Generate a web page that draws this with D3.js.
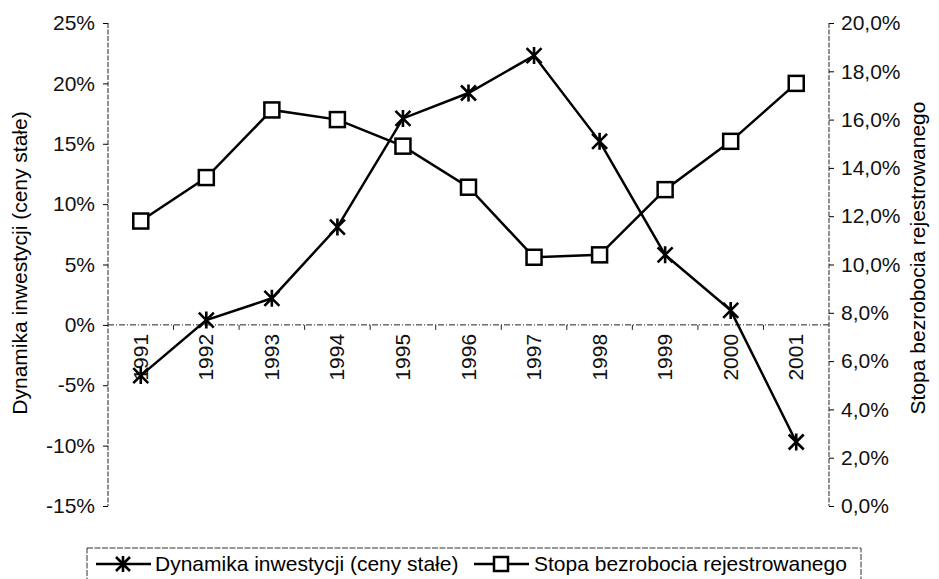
<!DOCTYPE html>
<html>
<head>
<meta charset="utf-8">
<script src="https://cdn.jsdelivr.net/npm/d3@7"></script>
<style>
  body { margin: 0; background: #fff; }
  svg { font-family: "Liberation Sans", Arial, sans-serif; }
</style>
</head>
<body>
<svg id="chart" width="939" height="579"></svg>
<script>
var years = ["1991", "1992", "1993", "1994", "1995", "1996", "1997", "1998", "1999", "2000", "2001"];
var investment = [-4.2, 0.4, 2.2, 8.1, 17.1, 19.2, 22.3, 15.2, 5.8, 1.2, -9.7];
var unemployment = [11.8, 13.6, 16.4, 16.0, 14.9, 13.2, 10.3, 10.4, 13.1, 15.1, 17.5];
var leftTicks = [25, 20, 15, 10, 5, 0, -5, -10, -15];
var rightTicks = [20, 18, 16, 14, 12, 10, 8, 6, 4, 2, 0];

var svg = d3.select("#chart"),
  plotL = 108, plotR = 829, plotT = 23, plotB = 506,
  fs = 21;

var x = d3.scaleBand().domain(years).range([plotL, plotR]).padding(0);
var yL = d3.scaleLinear().domain([-15, 25]).range([plotB, plotT]);
var yR = d3.scaleLinear().domain([0, 20]).range([plotB, plotT]);

var dash = "5,1.5";

// left axis
var gl = svg.append("g").attr("transform", "translate(" + plotL + ",0)")
  .call(d3.axisLeft(yL).tickValues(leftTicks).tickSize(5).tickPadding(8)
    .tickFormat(function(d) { return d + "%"; }));
gl.select(".domain").attr("d", "M0," + plotT + "V" + plotB).attr("stroke-dasharray", dash).attr("stroke", "#222");
gl.selectAll("text").attr("font-size", fs).attr("fill", "#111");

// right axis
var gr = svg.append("g").attr("transform", "translate(" + plotR + ",0)")
  .call(d3.axisRight(yR).tickValues(rightTicks).tickSize(5).tickPadding(7)
    .tickFormat(function(d) { return d.toFixed(1).replace(".", ",") + "%"; }));
gr.select(".domain").attr("d", "M0," + plotT + "V" + plotB).attr("stroke-dasharray", dash).attr("stroke", "#222");
gr.selectAll("text").attr("font-size", fs).attr("fill", "#111");

// x axis at 0%
var gx = svg.append("g").attr("transform", "translate(0," + yL(0) + ")");
gx.append("line").attr("x1", plotL).attr("x2", plotR)
  .attr("stroke", "#222").attr("stroke-dasharray", "6,2,1,2");
gx.selectAll(".tk").data(years.slice(1)).enter().append("line")
  .attr("x1", function(d) { return x(d); }).attr("x2", function(d) { return x(d); })
  .attr("y1", 0).attr("y2", 5).attr("stroke", "#222");
gx.selectAll(".lbl").data(years).enter().append("text")
  .attr("transform", function(d) {
    return "translate(" + (x(d) + x.bandwidth() / 2 + 7) + ",9) rotate(-90)";
  })
  .attr("text-anchor", "end").attr("font-size", fs).attr("fill", "#111")
  .text(function(d) { return d; });

// axis titles
svg.append("text").attr("transform", "translate(20,263) rotate(-90)")
  .attr("text-anchor", "middle").attr("font-size", fs).attr("dy", "0.35em")
  .text("Dynamika inwestycji (ceny stałe)");
svg.append("text").attr("transform", "translate(918,258) rotate(-90)")
  .attr("text-anchor", "middle").attr("font-size", fs).attr("dy", "0.35em")
  .text("Stopa bezrobocia rejestrowanego");

var cx = function(d, i) { return x(years[i]) + x.bandwidth() / 2; };

// unemployment line
svg.append("path").datum(unemployment)
  .attr("fill", "none").attr("stroke", "#000").attr("stroke-width", 2.5)
  .attr("d", d3.line().x(cx).y(function(d) { return yR(d); }));

// investment line
svg.append("path").datum(investment)
  .attr("fill", "none").attr("stroke", "#000").attr("stroke-width", 2.5)
  .attr("d", d3.line().x(cx).y(function(d) { return yL(d); }));

function star(g, px, py, s) {
  g.append("path")
    .attr("d", "M" + (px - s) + "," + (py - s) + "L" + (px + s) + "," + (py + s) +
      "M" + (px + s) + "," + (py - s) + "L" + (px - s) + "," + (py + s) +
      "M" + px + "," + (py - s - 1) + "L" + px + "," + (py + s + 1))
    .attr("stroke", "#000").attr("stroke-width", 2.6).attr("fill", "none");
}
function square(g, px, py, s) {
  g.append("rect").attr("x", px - s).attr("y", py - s)
    .attr("width", 2 * s).attr("height", 2 * s)
    .attr("fill", "#fff").attr("stroke", "#000").attr("stroke-width", 2.5);
}

var mk = svg.append("g");
unemployment.forEach(function(d, i) { square(mk, cx(d, i), yR(d), 7.5); });
investment.forEach(function(d, i) { star(mk, cx(d, i), yL(d), 7.5); });

// legend
var lg = svg.append("g");
lg.append("rect").attr("x", 87).attr("y", 548).attr("width", 774).attr("height", 50)
  .attr("fill", "none").attr("stroke", "#333").attr("stroke-dasharray", "6,1.5");
lg.append("line").attr("x1", 96).attr("x2", 151).attr("y1", 564).attr("y2", 564)
  .attr("stroke", "#000").attr("stroke-width", 2.5);
star(lg, 123, 564, 7);
lg.append("text").attr("x", 155).attr("y", 564).attr("dy", "0.35em").attr("font-size", fs)
  .text("Dynamika inwestycji (ceny stałe)");
lg.append("line").attr("x1", 474).attr("x2", 529).attr("y1", 564).attr("y2", 564)
  .attr("stroke", "#000").attr("stroke-width", 2.5);
square(lg, 501, 564, 7);
lg.append("text").attr("x", 534).attr("y", 564).attr("dy", "0.35em").attr("font-size", fs)
  .text("Stopa bezrobocia rejestrowanego");
</script>
</body>
</html>
